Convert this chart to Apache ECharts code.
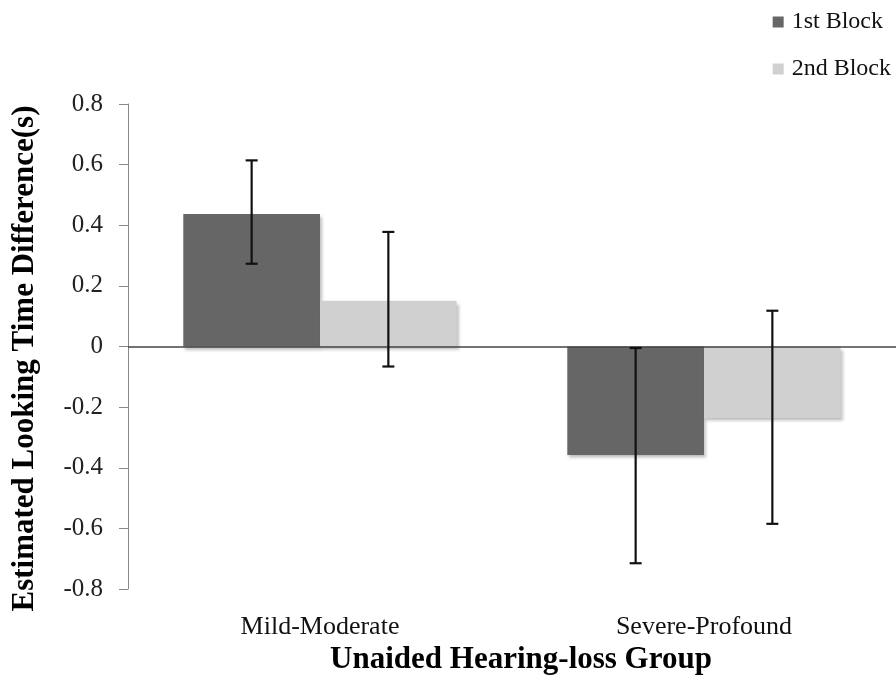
<!DOCTYPE html>
<html>
<head>
<meta charset="utf-8">
<script src="https://cdn.jsdelivr.net/npm/echarts@6/dist/echarts.min.js"></script>
<style>
html,body{margin:0;padding:0;background:#fff;}
#chart{width:896px;height:682px;}
</style>
</head>
<body>
<div id="chart"></div>
<script>
var categories = ['Mild-Moderate', 'Severe-Profound'];
var seriesNames = ['1st Block', '2nd Block'];
var block1 = [0.437, -0.358];
var block2 = [0.151, -0.236];
var block1Low = [0.273, -0.715];
var block1High = [0.614, -0.005];
var block2Low = [-0.066, -0.585];
var block2High = [0.378, 0.118];

var serif = '"Liberation Serif", "Times New Roman", serif';
var catGap = 0.288;

function errData(lo, hi) {
  return categories.map(function (c, i) { return [i, lo[i], hi[i]]; });
}
function makeRender(side) {
  return function (params, api) {
    var idx = api.value(0);
    var lo = api.value(1);
    var hi = api.value(2);
    var band = api.size([1, 0])[0];
    var barW = band * (1 - catGap) / 2;
    var off = side * barW / 2;
    var pTop = api.coord([idx, hi]);
    var pBot = api.coord([idx, lo]);
    var x = pTop[0] + off;
    var cap = 6;
    var st = { stroke: '#111', lineWidth: 2.2 };
    return {
      type: 'group',
      children: [
        { type: 'line', shape: { x1: x, y1: pTop[1], x2: x, y2: pBot[1] }, style: st },
        { type: 'line', shape: { x1: x - cap, y1: pTop[1], x2: x + cap, y2: pTop[1] }, style: st },
        { type: 'line', shape: { x1: x - cap, y1: pBot[1], x2: x + cap, y2: pBot[1] }, style: st }
      ]
    };
  };
}

var chart = echarts.init(document.getElementById('chart'));
var barShadow = { shadowBlur: 3, shadowOffsetX: 2, shadowOffsetY: 3, shadowColor: 'rgba(0,0,0,0.25)' };
chart.setOption({
  animation: false,
  backgroundColor: '#fff',
  grid: { left: 128, right: 0, top: 104, bottom: 93, containLabel: false },
  legend: {
    data: seriesNames,
    orient: 'vertical',
    right: 0,
    top: 5,
    itemWidth: 11,
    itemHeight: 11,
    itemGap: 23,
    icon: 'rect',
    textStyle: { fontFamily: serif, fontSize: 24, color: '#111', padding: [0, 0, 0, 3] }
  },
  xAxis: {
    type: 'category',
    data: categories,
    position: 'bottom',
    axisLine: { show: false, onZero: false },
    axisTick: { show: false },
    axisLabel: { fontFamily: serif, fontSize: 26, color: '#111', margin: 25 },
    name: 'Unaided Hearing-loss Group',
    nameLocation: 'middle',
    nameGap: 55,
    nameTextStyle: { fontFamily: serif, fontSize: 31, fontWeight: 'bold', color: '#000', padding: [0, 0, 0, 18] }
  },
  yAxis: {
    type: 'value',
    min: -0.8,
    max: 0.8,
    interval: 0.2,
    axisLine: { show: true, lineStyle: { color: '#888', width: 1 } },
    axisTick: { show: true, length: 9, lineStyle: { color: '#888' } },
    splitLine: { show: false },
    axisLabel: {
      fontFamily: serif, fontSize: 25, color: '#222', margin: 25,
      formatter: function (v) { return String(Math.round(v * 10) / 10); }
    },
    name: 'Estimated Looking Time Difference(s)',
    nameLocation: 'middle',
    nameGap: 88,
    nameTextStyle: { fontFamily: serif, fontSize: 31, fontWeight: 'bold', color: '#000', padding: [0, 24, 0, 0] }
  },
  series: [
    {
      name: seriesNames[0],
      type: 'bar',
      data: block1,
      barGap: '0%',
      barCategoryGap: (catGap * 100) + '%',
      itemStyle: Object.assign({ color: '#666666' }, barShadow),
      markLine: {
        silent: true,
        symbol: ['none', 'none'],
        label: { show: false },
        lineStyle: { color: '#444', width: 1.5, type: 'solid' },
        data: [{ yAxis: 0 }]
      }
    },
    {
      name: seriesNames[1],
      type: 'bar',
      data: block2,
      itemStyle: Object.assign({ color: '#d0d0d0' }, barShadow)
    },
    {
      type: 'custom',
      renderItem: makeRender(-1),
      data: errData(block1Low, block1High),
      encode: { x: 0, y: [1, 2] },
      z: 10
    },
    {
      type: 'custom',
      renderItem: makeRender(1),
      data: errData(block2Low, block2High),
      encode: { x: 0, y: [1, 2] },
      z: 10
    }
  ]
});
</script>
</body>
</html>
